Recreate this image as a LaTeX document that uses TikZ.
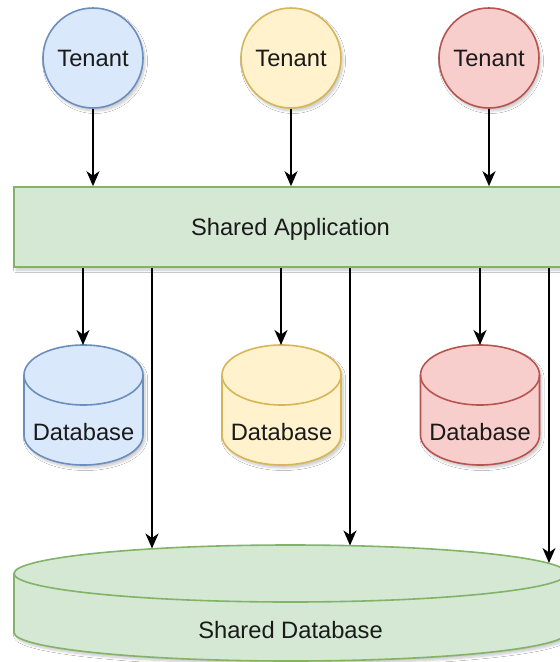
\documentclass[tikz,border=0pt]{standalone}
\usepackage{fontspec}
\setmainfont{Liberation Sans}
\usetikzlibrary{arrows.meta,shadows.blur}

\definecolor{blueF}{HTML}{DAE8FC}\definecolor{blueD}{HTML}{6C8EBF}
\definecolor{yelF}{HTML}{FFF2CC}\definecolor{yelD}{HTML}{D6B656}
\definecolor{redF}{HTML}{F8CECC}\definecolor{redD}{HTML}{B85450}
\definecolor{grnF}{HTML}{D5E8D4}\definecolor{grnD}{HTML}{82B366}
\definecolor{ink}{HTML}{1A1A1A}

\tikzset{
  softshade/.style={blur shadow={shadow xshift=2pt, shadow yshift=-3pt,
      shadow blur radius=2.5pt, shadow opacity=22, shadow blur steps=8}},
  lbl/.style={font=\fontsize{23.7}{28}\selectfont, text=ink},
  box/.style={draw, line width=1.6pt, softshade, lbl},
  tenant/.style={box, circle, minimum size=100pt, inner sep=0pt},
  appbox/.style={box, rectangle, minimum width=553pt, minimum height=80pt,
      inner sep=0pt, text depth=0pt},
  link/.style={line width=1.8pt, draw=black,
      -{Stealth[length=15pt, width=13pt, inset=4.5pt]}},
}

% cylinder: centre x, top y, x radius, y radius, bottom y, fill, stroke
\newcommand\dbcylinder[7]{%
  \path[fill=#6, draw=#7, line width=1.6pt, softshade]
    (#1-#3,#2+#4) -- (#1-#3,#5-#4)
    arc[start angle=180, end angle=0, x radius=#3, y radius=#4]
    -- (#1+#3,#2+#4)
    arc[start angle=0, end angle=-180, x radius=#3, y radius=#4] -- cycle;
  \draw[#7, line width=1.6pt] (#1-#3,#2+#4)
    arc[start angle=180, end angle=0, x radius=#3, y radius=#4];
}

\begin{document}
\begin{tikzpicture}[x=1pt, y=-1pt]
  \clip (0,0) rectangle (560,662);
  \fill[white] (0,0) rectangle (560,662);

  % tenants
  \node[tenant, fill=blueF, draw=blueD] (t1) at (93,58)  {Tenant};
  \node[tenant, fill=yelF,  draw=yelD]  (t2) at (291,58) {Tenant};
  \node[tenant, fill=redF,  draw=redD]  (t3) at (489,58) {Tenant};

  % shared application layer
  \node[appbox, fill=grnF, draw=grnD] (app) at (290.5,227) {Shared Application};

  % per-tenant databases
  \dbcylinder{83.5}{345}{59.5}{30}{465}{blueF}{blueD}
  \dbcylinder{281.5}{345}{59.5}{30}{465}{yelF}{yelD}
  \dbcylinder{480}{345}{59.5}{30}{465}{redF}{redD}
  \node[lbl] (db1) at (83.5,432) {Database};
  \node[lbl] (db2) at (281.5,432) {Database};
  \node[lbl] (db3) at (480,432) {Database};
  \coordinate (db1top) at (83,345);
  \coordinate (db2top) at (281,345);
  \coordinate (db3top) at (480,345);

  % shared database
  \dbcylinder{290.5}{545}{276.5}{28.5}{661}{grnF}{grnD}
  \node[lbl] (sdb) at (290.5,630) {Shared Database};
  \coordinate (s1) at (152,548.5);
  \coordinate (s2) at (350,545.5);
  \coordinate (s3) at (549,563);

  % connectors
  \draw[link] (t1.south) -- (app.north -| t1.south);
  \draw[link] (t2.south) -- (app.north -| t2.south);
  \draw[link] (t3.south) -- (app.north -| t3.south);

  \draw[link] (app.south -| db1top) -- (db1top);
  \draw[link] (app.south -| db2top) -- (db2top);
  \draw[link] (app.south -| db3top) -- (db3top);

  \draw[link] (app.south -| s1) -- (s1);
  \draw[link] (app.south -| s2) -- (s2);
  \draw[link] (app.south -| s3) -- (s3);
\end{tikzpicture}
\end{document}
